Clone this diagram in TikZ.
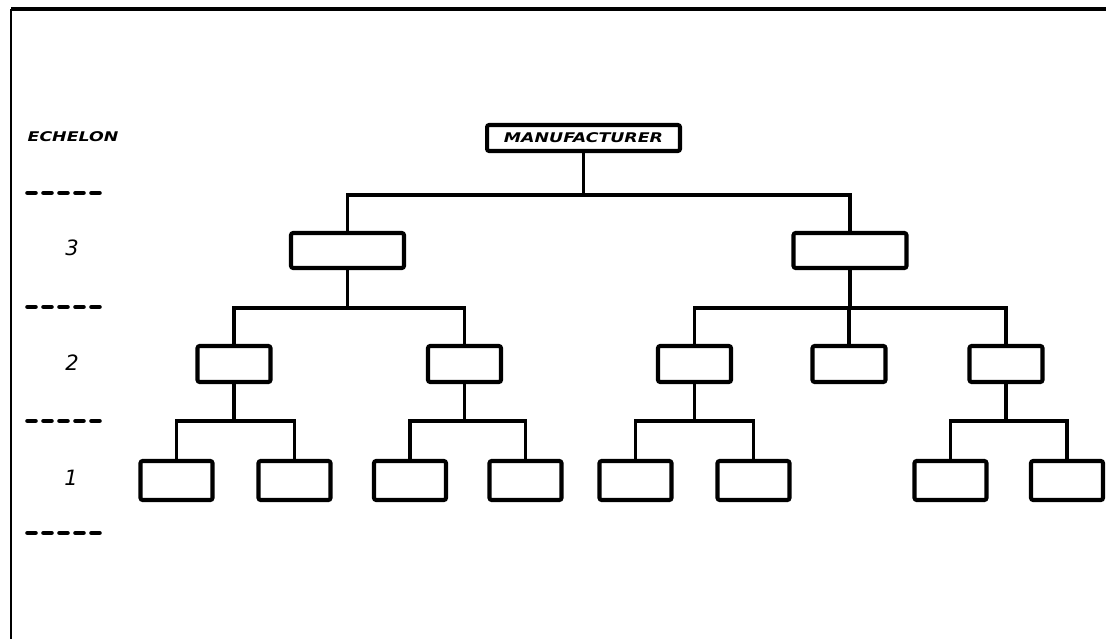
\documentclass[tikz,border=0pt]{standalone}
\usepackage{fontspec}
\newfontfamily\labelfont[FakeStretch=1.3]{DejaVu Sans}
\newfontfamily\digitfont{DejaVu Sans}
\usetikzlibrary{positioning, calc}

\tikzset{
  unitbox/.style={draw, line width=2.3pt, rounded corners=1.2pt, inner sep=0pt},
  topbox/.style={unitbox, minimum width=3.86cm, minimum height=0.52cm,
    font=\labelfont\bfseries\itshape\fontsize{7.6}{9}\selectfont},
  boxthree/.style={unitbox, minimum width=2.26cm, minimum height=0.70cm},
  boxtwo/.style={unitbox, minimum width=1.46cm, minimum height=0.72cm},
  boxone/.style={unitbox, minimum width=1.44cm, minimum height=0.78cm},
  link/.style={line width=1.8pt},
  echelonrule/.style={line width=2.6pt, line cap=round, dash pattern=on 0.16cm off 0.16cm},
  levellabel/.style={font=\digitfont\itshape\fontsize{12}{14}\selectfont}
}

\begin{document}
\begin{tikzpicture}[x=0.02cm, y=-0.02cm]
  \useasboundingbox (0,0) rectangle (1106,639);

  % Frame
  \draw[line width=1.3pt] (11,639) -- (11,9);
  \draw[line width=1.8pt] (11,9) -- (1106,9);

  % Echelon column
  \node[font=\labelfont\bfseries\itshape\fontsize{7.6}{9}\selectfont] (echelon) at (73,137) {ECHELON};
  \node[levellabel] (lvl3) at (72,248) {3};
  \node[levellabel] (lvl2) at (72,363) {2};
  \node[levellabel] (lvl1) at (71,478) {1};
  \foreach \y in {193,307,421,533}
    \draw[echelonrule] (27.5,\y) -- (99.5,\y);

  % Manufacturer
  \node[topbox] (mfr) at (583.5,138) {MANUFACTURER};

  % Echelon 3
  \node[boxthree] (a) at (347.5,250.5) {};
  \node[boxthree] (b) at (850,250.5) {};

  % Echelon 2
  \node[boxtwo] (a1) at (234,364) {};
  \node[boxtwo] (a2) at (464.5,364) {};
  \node[boxtwo] (b1) at (694.5,364) {};
  \node[boxtwo] (b2) at (849,364) {};
  \node[boxtwo] (b3) at (1006,364) {};

  % Echelon 1
  \foreach \n/\x in {a11/176.5, a12/294.5, a21/410, a22/525.5,
                     b11/635.5, b12/753.5, b31/950.5, b32/1067}
    \node[boxone] (\n) at (\x,480.5) {};

  % Bus lines
  \coordinate (busm) at (0,195);
  \coordinate (bus3) at (0,308);
  \coordinate (bus2) at (0,421);

  % Manufacturer to echelon 3
  \draw[link] (mfr.south) -- (mfr.south |- busm);
  \draw[link] (a.north) -- (a.north |- busm) -- (b.north |- busm) -- (b.north);

  % Echelon 3 to echelon 2
  \draw[link] (a.south) -- (a.south |- bus3);
  \draw[link] (a1.north) -- (a1.north |- bus3) -- (a2.north |- bus3) -- (a2.north);
  \draw[link] (b.south) -- (b.south |- bus3);
  \draw[link] (b1.north) -- (b1.north |- bus3) -- (b3.north |- bus3) -- (b3.north);
  \draw[link] (b2.north) -- (b2.north |- bus3);

  % Echelon 2 to echelon 1
  \foreach \p/\l/\r in {a1/a11/a12, a2/a21/a22, b1/b11/b12, b3/b31/b32} {
    \draw[link] (\p.south) -- (\p.south |- bus2);
    \draw[link] (\l.north) -- (\l.north |- bus2) -- (\r.north |- bus2) -- (\r.north);
  }
\end{tikzpicture}
\end{document}
